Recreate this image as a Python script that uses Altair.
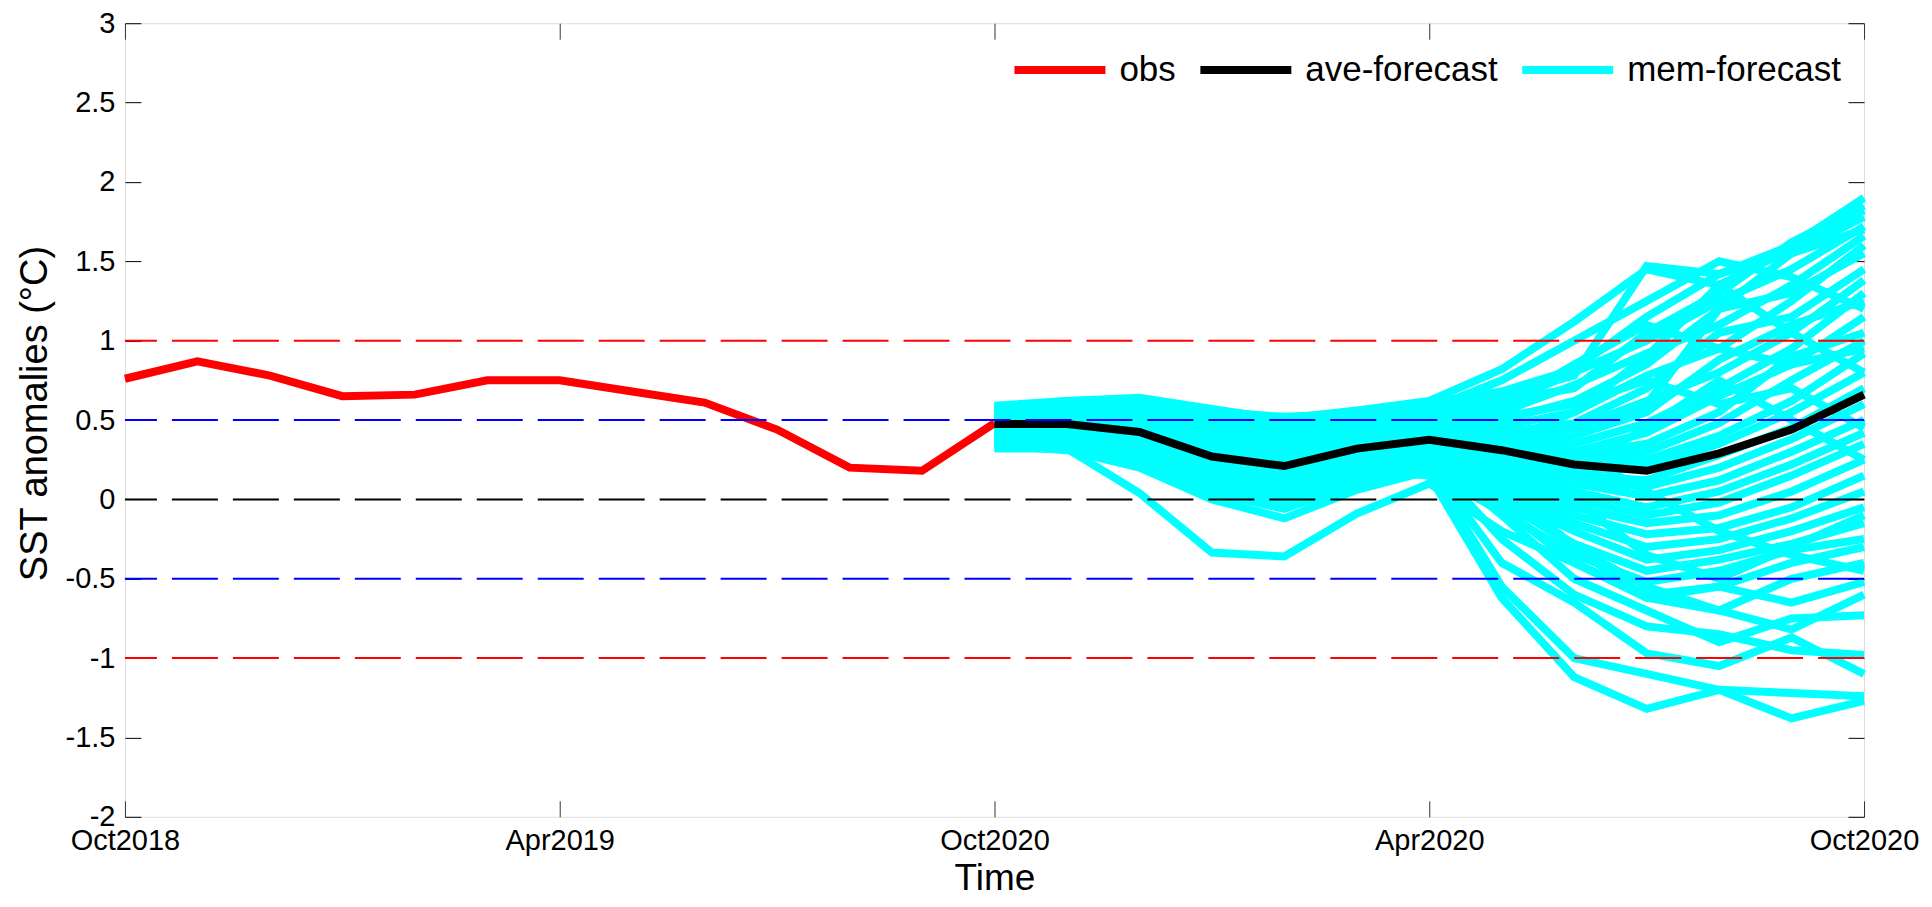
import altair as alt
import pandas as pd

# ---------------- data ----------------
obs_months = list(range(0, 13))
obs_values = [0.76, 0.87, 0.78, 0.65, 0.66, 0.75, 0.75, 0.68, 0.61, 0.44, 0.20, 0.18, 0.48]

fc_months = list(range(12, 25))
ave_values = [0.475, 0.475, 0.425, 0.27, 0.21, 0.32, 0.375, 0.31, 0.22, 0.18, 0.29, 0.44, 0.66]

members = [
    [0.59, 0.62, 0.64, 0.57, 0.50, 0.55, 0.61, 0.68, 0.82, 1.15, 1.42, 1.60, 1.90],
    [0.57, 0.61, 0.63, 0.55, 0.52, 0.54, 0.60, 0.66, 0.78, 1.47, 1.42, 1.55, 1.78],
    [0.55, 0.60, 0.62, 0.52, 0.46, 0.50, 0.58, 0.62, 0.70, 1.05, 1.30, 1.62, 1.85],
    [0.54, 0.58, 0.60, 0.50, 0.44, 0.52, 0.55, 0.60, 0.80, 1.00, 1.25, 1.45, 1.72],
    [0.53, 0.57, 0.58, 0.48, 0.40, 0.48, 0.52, 0.55, 0.72, 0.92, 1.10, 1.35, 1.66],
    [0.52, 0.56, 0.57, 0.46, 0.38, 0.45, 0.50, 0.50, 0.62, 0.85, 1.20, 1.30, 1.55],
    [0.51, 0.55, 0.55, 0.44, 0.36, 0.42, 0.48, 0.46, 0.55, 0.78, 0.95, 1.25, 1.60],
    [0.50, 0.54, 0.54, 0.42, 0.34, 0.40, 0.46, 0.42, 0.48, 0.70, 1.05, 1.15, 1.45],
    [0.49, 0.53, 0.52, 0.40, 0.32, 0.38, 0.44, 0.40, 0.45, 0.62, 0.80, 1.05, 1.38],
    [0.48, 0.52, 0.50, 0.38, 0.30, 0.37, 0.43, 0.38, 0.40, 0.55, 0.88, 1.10, 1.25],
    [0.47, 0.50, 0.48, 0.36, 0.28, 0.36, 0.42, 0.36, 0.35, 0.48, 0.70, 0.95, 1.30],
    [0.46, 0.49, 0.46, 0.34, 0.26, 0.35, 0.41, 0.34, 0.30, 0.42, 0.65, 0.85, 1.15],
    [0.45, 0.48, 0.45, 0.32, 0.24, 0.34, 0.40, 0.32, 0.28, 0.35, 0.55, 0.90, 1.05],
    [0.44, 0.47, 0.43, 0.30, 0.22, 0.33, 0.39, 0.30, 0.25, 0.30, 0.48, 0.75, 1.00],
    [0.43, 0.46, 0.42, 0.28, 0.20, 0.32, 0.38, 0.28, 0.22, 0.25, 0.40, 0.62, 0.92],
    [0.42, 0.45, 0.40, 0.26, 0.18, 0.30, 0.37, 0.26, 0.18, 0.20, 0.35, 0.55, 0.80],
    [0.41, 0.44, 0.38, 0.24, 0.16, 0.28, 0.36, 0.24, 0.15, 0.12, 0.28, 0.45, 0.70],
    [0.40, 0.43, 0.37, 0.22, 0.14, 0.27, 0.35, 0.22, 0.12, 0.08, 0.20, 0.38, 0.60],
    [0.39, 0.42, 0.35, 0.20, 0.12, 0.26, 0.34, 0.20, 0.10, 0.02, 0.12, 0.30, 0.50],
    [0.38, 0.41, 0.33, 0.18, 0.10, 0.25, 0.33, 0.18, 0.05, -0.05, 0.05, 0.22, 0.42],
    [0.37, 0.40, 0.32, 0.16, 0.08, 0.23, 0.32, 0.15, 0.00, -0.10, -0.02, 0.15, 0.35],
    [0.36, 0.39, 0.30, 0.14, 0.06, 0.21, 0.31, 0.12, -0.05, -0.15, -0.10, 0.05, 0.25],
    [0.35, 0.38, 0.29, 0.12, 0.04, 0.19, 0.30, 0.10, -0.10, -0.22, -0.18, -0.05, 0.15],
    [0.34, 0.36, 0.27, 0.10, 0.02, 0.17, 0.28, 0.05, -0.15, -0.30, -0.25, -0.12, 0.05],
    [0.33, 0.34, 0.25, 0.07, -0.02, 0.14, 0.26, 0.02, -0.20, -0.38, -0.32, -0.20, -0.05],
    [0.32, 0.32, 0.22, 0.04, -0.06, 0.10, 0.22, -0.02, -0.28, -0.45, -0.38, -0.28, -0.15],
    [0.34, 0.31, 0.20, 0.00, -0.12, 0.06, 0.18, -0.08, -0.35, -0.52, -0.45, -0.32, -0.25],
    [0.35, 0.32, 0.04, -0.335, -0.36, -0.09, 0.10, -0.20, -0.40, -0.60, -0.55, -0.40, -0.30],
    [0.40, 0.42, 0.32, 0.15, 0.05, 0.18, 0.15, -0.62, -1.12, -1.32, -1.20, -1.38, -1.27],
    [0.44, 0.46, 0.38, 0.20, 0.10, 0.22, 0.20, -0.55, -1.00, -1.10, -1.20, -1.22, -1.24],
    [0.42, 0.45, 0.36, 0.18, 0.08, 0.20, 0.22, -0.40, -0.65, -0.97, -1.05, -0.87, -1.10],
    [0.46, 0.48, 0.40, 0.24, 0.14, 0.26, 0.25, -0.25, -0.60, -0.80, -0.85, -0.95, -0.98],
    [0.48, 0.50, 0.44, 0.28, 0.18, 0.30, 0.28, -0.10, -0.50, -0.70, -0.90, -0.75, -0.73],
    [0.50, 0.52, 0.46, 0.30, 0.20, 0.28, 0.30, -0.05, -0.40, -0.62, -0.55, -0.65, -0.52],
    [0.45, 0.47, 0.41, 0.25, 0.15, 0.24, 0.27, 0.00, -0.30, -0.55, -0.70, -0.50, -0.40],
    [0.56, 0.60, 0.61, 0.53, 0.48, 0.53, 0.57, 0.75, 1.00, 1.25, 1.50, 1.40, 1.20],
    [0.52, 0.55, 0.56, 0.47, 0.42, 0.49, 0.54, 0.58, 0.85, 1.10, 0.95, 0.85, 0.95],
    [0.49, 0.51, 0.49, 0.39, 0.30, 0.41, 0.47, 0.52, 0.60, 0.75, 0.60, 0.70, 0.45],
    [0.47, 0.49, 0.47, 0.37, 0.29, 0.39, 0.45, 0.45, 0.30, 0.05, -0.20, -0.35, -0.45],
    [0.43, 0.44, 0.39, 0.27, 0.19, 0.31, 0.36, 0.20, 0.00, -0.35, -0.50, -0.30, -0.10],
    [0.41, 0.43, 0.36, 0.23, 0.13, 0.29, 0.35, 0.30, 0.40, 0.60, 1.20, 1.55, 1.70],
    [0.39, 0.41, 0.34, 0.21, 0.11, 0.24, 0.33, 0.35, 0.55, 0.90, 1.35, 1.05, 0.80],
    [0.37, 0.39, 0.31, 0.17, 0.07, 0.22, 0.31, 0.25, 0.20, 0.45, 0.75, 0.50, 0.25],
    [0.36, 0.37, 0.28, 0.11, 0.01, 0.15, 0.29, 0.10, -0.30, -0.62, -0.70, -0.82, -0.60],
    [0.58, 0.62, 0.63, 0.56, 0.51, 0.56, 0.62, 0.82, 1.12, 1.45, 1.35, 1.58, 1.82],
]

x_tick_values = [0, 6, 12, 18, 24]
x_tick_labels = ["Oct2018", "Apr2019", "Oct2020", "Apr2020", "Oct2020"]
y_tick_values = [3, 2.5, 2, 1.5, 1, 0.5, 0, -0.5, -1, -1.5, -2]

ref_levels = [1, 0.5, 0, -0.5, -1]
ref_colors = ["#ff0000", "#0000ff", "#000000", "#0000ff", "#ff0000"]

series_names = ["obs", "ave-forecast", "mem-forecast"]
series_colors = ["#ff0000", "#000000", "#00ffff"]
series_widths = [8, 8, 4]

# ---------------- tables ----------------
obs_df = pd.DataFrame({"month": obs_months, "value": obs_values, "series": "obs"})
ave_df = pd.DataFrame({"month": fc_months, "value": ave_values, "series": "ave-forecast"})
mem_rows = []
for i, mem in enumerate(members):
    for m, v in zip(fc_months, mem):
        mem_rows.append({"month": m, "value": v, "series": "mem-forecast", "member": i})
mem_df = pd.DataFrame(mem_rows)
ref_df = pd.DataFrame({"level": ref_levels, "col": ref_colors})

FONT = "Liberation Sans"
W, H = 1740, 794

xs = alt.Scale(domain=[0, 24], nice=False, zero=False)
ys = alt.Scale(domain=[-2, 3], nice=False, zero=False)
color_scale = alt.Scale(domain=series_names, range=series_colors)
width_scale = alt.Scale(domain=series_names, range=series_widths)

label_js = "[" + ",".join("'%s'" % s for s in x_tick_labels) + "][round(datum.value / 6)]"

x_bottom = alt.Axis(
    orient="bottom", values=x_tick_values, labelExpr=label_js,
    offset=-16, tickSize=16, domain=False, grid=False,
    tickColor="#333333", tickWidth=1,
    labelFontSize=29, labelFont=FONT, labelColor="black", labelPadding=10,
    labelFlush=False, labelOverlap=False, labelBound=False,
    title="Time", titleFontSize=37, titleFont=FONT, titleFontWeight="normal",
    titleColor="black", titlePadding=5,
)
y_left = alt.Axis(
    orient="left", values=y_tick_values, labelExpr="'' + datum.value",
    offset=-16, tickSize=16, domain=False, grid=False,
    tickColor="black", tickWidth=1,
    labelFontSize=29, labelFont=FONT, labelColor="black", labelPadding=10,
    labelFlush=False, labelOverlap=False,
    title="SST anomalies (°C)", titleFontSize=38, titleFont=FONT,
    titleFontWeight="normal", titleColor="black", titlePadding=11,
    titleY=390,
)
x_top = alt.Axis(
    orient="top", values=x_tick_values, labels=False, offset=-16, tickSize=16,
    domain=False, grid=False, tickColor="#333333", tickWidth=1, title=None,
)
y_right = alt.Axis(
    orient="right", values=y_tick_values, labels=False, offset=-16, tickSize=16,
    domain=False, grid=False, tickColor="black", tickWidth=1, title=None,
)

legend = alt.Legend(
    title=None, orient="none", legendX=886, legendY=-3, direction="horizontal",
    symbolType="stroke", symbolSize=8281, labelFontSize=35, labelFont=FONT,
    labelColor="black", labelOffset=10, columnPadding=8, padding=0,
    labelLimit=500, gridAlign="each",
)

mem_layer = alt.Chart(mem_df).mark_line().encode(
    x=alt.X("month:Q", scale=xs, axis=x_bottom),
    y=alt.Y("value:Q", scale=ys, axis=y_left),
    color=alt.Color("series:N", scale=color_scale, legend=legend),
    strokeWidth=alt.StrokeWidth("series:N", scale=width_scale, legend=legend),
    detail="member:N",
)
obs_layer = alt.Chart(obs_df).mark_line().encode(
    x=alt.X("month:Q", scale=xs, axis=x_top),
    y=alt.Y("value:Q", scale=ys, axis=y_right),
    color=alt.Color("series:N", scale=color_scale, legend=legend),
    strokeWidth=alt.StrokeWidth("series:N", scale=width_scale, legend=legend),
)
ave_layer = alt.Chart(ave_df).mark_line().encode(
    x=alt.X("month:Q", scale=xs, axis=None),
    y=alt.Y("value:Q", scale=ys, axis=None),
    color=alt.Color("series:N", scale=color_scale, legend=legend),
    strokeWidth=alt.StrokeWidth("series:N", scale=width_scale, legend=legend),
)
ref_layer = alt.Chart(ref_df).mark_rule(strokeDash=[46, 15], strokeWidth=2).encode(
    y=alt.Y("level:Q", scale=ys, axis=None),
    stroke=alt.Stroke("col:N", scale=None, legend=None),
)

chart = (
    alt.layer(mem_layer, obs_layer, ave_layer, ref_layer)
    .resolve_axis(x="independent", y="independent")
    .properties(
        width=W, height=H,
        autosize=alt.AutoSizeParams(type="none"),
        padding={"left": 117, "top": 15, "right": 60, "bottom": 82},
        background="white",
    )
    .configure_view(stroke="black", strokeWidth=1.3)
    .configure(font=FONT)
)

chart.save("out.html", embed_options={"renderer": "svg", "actions": False})
